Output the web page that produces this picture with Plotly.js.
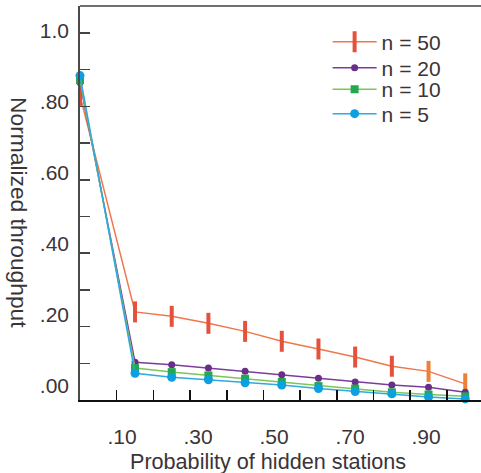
<!DOCTYPE html>
<html>
<head>
<meta charset="utf-8">
<script src="https://cdn.plot.ly/plotly-3.0.1.min.js"></script>
<style>html,body{margin:0;padding:0;background:#fff;}#chart{width:481px;height:473px;}</style>
</head>
<body>
<div id="chart"></div>
<script>
// Probability of hidden stations (x) as read against the chart's tick marks
const probHidden = [0, 0.15, 0.25, 0.35, 0.45, 0.55, 0.65, 0.75, 0.85, 0.95, 1.05];
const thrN50 = [0.83, 0.240, 0.228, 0.209, 0.187, 0.160, 0.139, 0.117, 0.092, 0.078, 0.044];
const thrN20 = [0.865, 0.103, 0.096, 0.087, 0.078, 0.069, 0.059, 0.049, 0.041, 0.035, 0.021];
const thrN10 = [0.872, 0.087, 0.076, 0.067, 0.058, 0.049, 0.038, 0.031, 0.021, 0.015, 0.010];
const thrN5  = [0.884, 0.073, 0.062, 0.055, 0.047, 0.041, 0.031, 0.023, 0.017, 0.008, 0.003];
const seriesNames = ['n = 50', 'n = 20', 'n = 10', 'n = 5'];
const xTickVals = [0.1, 0.3, 0.5, 0.7, 0.9];
const xTickText = ['.10', '.30', '.50', '.70', '.90'];
const yTickVals = [0, 0.2, 0.4, 0.6, 0.8, 1.0];
const yTickText = ['.00', '.20', '.40', '.60', '.80', '1.0'];
const xTitle = 'Probability of hidden stations';
const yTitle = 'Normalized throughput';

const FONT = 'Liberation Sans, Arial, sans-serif';
const TXT = '#3b3437';
const n50Colors = probHidden.map((v, i) => i >= probHidden.length - 2 ? '#ee7f36' : '#e5523b');

const traces = [
  {x: probHidden, y: thrN50, name: seriesNames[0], legend: 'legend', mode: 'lines+markers', cliponaxis: false,
   line: {color: '#f0764c', width: 1.5},
   marker: {symbol: 'line-ns', size: 15, line: {color: n50Colors, width: 4}}},
  {x: probHidden, y: thrN20, name: seriesNames[1], legend: 'legend2', mode: 'lines+markers', cliponaxis: false,
   line: {color: '#7b3d9b', width: 1.5},
   marker: {symbol: 'circle', size: 7, color: '#6a2d8a'}},
  {x: probHidden, y: thrN10, name: seriesNames[2], legend: 'legend3', mode: 'lines+markers', cliponaxis: false,
   line: {color: '#7cc55a', width: 1.5},
   marker: {symbol: 'square', size: 8, color: '#22a94c'}},
  {x: probHidden, y: thrN5, name: seriesNames[3], legend: 'legend4', mode: 'lines+markers', cliponaxis: false,
   line: {color: '#2fa9e1', width: 1.5},
   marker: {symbol: 'circle', size: 9, color: '#0d9fe0'}},
  {x: [], y: [], xaxis: 'x2', yaxis: 'y2', showlegend: false, hoverinfo: 'skip', mode: 'markers'}
];

function legendAt(yPaper) {
  return {x: 0.6175, y: yPaper, xanchor: 'left', yanchor: 'top', bgcolor: 'rgba(0,0,0,0)',
          font: {family: FONT, size: 21, color: TXT}, itemwidth: 44};
}

const layout = {
  width: 481, height: 473,
  margin: {l: 80, r: 0, t: 6, b: 73, pad: 0},
  paper_bgcolor: '#ffffff', plot_bgcolor: '#ffffff',
  font: {family: FONT, size: 21, color: TXT},
  showlegend: true,
  legend: legendAt(0.9607),
  legend2: legendAt(0.8947),
  legend3: legendAt(0.8401),
  legend4: legendAt(0.7779),
  xaxis: {range: [0, 1.093], showgrid: false, zeroline: false, showticklabels: false,
          tickvals: [0.1,0.2,0.3,0.4,0.5,0.6,0.7,0.8,0.9,1.0], ticks: 'inside', ticklen: 10, tickwidth: 1.5, tickcolor: '#111',
          showline: true, linecolor: '#111', linewidth: 2},
  yaxis: {range: [0, 1.0736], showgrid: false, zeroline: false, showticklabels: false,
          dtick: 0.1, tick0: 0, ticks: 'inside', ticklen: 10, tickwidth: 1.5, tickcolor: '#444',
          showline: true, linecolor: '#4a4a4a', linewidth: 2},
  xaxis2: {overlaying: 'x', anchor: 'y', side: 'bottom', range: [-0.0105, 1.0447],
           tickvals: xTickVals, ticktext: xTickText, ticks: '', showline: false, showgrid: false, zeroline: false,
           ticklabelstandoff: 22, tickfont: {family: FONT, size: 21, color: TXT}},
  yaxis2: {overlaying: 'y', anchor: 'x', side: 'left', range: [-0.0394, 1.0704],
           tickvals: yTickVals, ticktext: yTickText, ticks: '', showline: false, showgrid: false, zeroline: false,
           ticklabelstandoff: 10, tickfont: {family: FONT, size: 21, color: TXT}},
  shapes: [{type: 'line', xref: 'paper', yref: 'paper', x0: 0, x1: 1, y0: 1, y1: 1,
            line: {color: '#707070', width: 2}}],
  annotations: [
    {text: xTitle, xref: 'paper', yref: 'paper', x: (267.5 - 80) / 401, y: (400 - 462) / 394,
     xanchor: 'center', yanchor: 'middle', showarrow: false, font: {family: FONT, size: 21.6, color: TXT}},
    {text: yTitle, xref: 'paper', yref: 'paper', x: (19 - 80) / 401, y: (400 - 212) / 394,
     xanchor: 'center', yanchor: 'middle', textangle: 90, showarrow: false, font: {family: FONT, size: 22.8, color: TXT}}
  ]
};

Plotly.newPlot('chart', traces, layout, {displayModeBar: false, staticPlot: true});
</script>
</body>
</html>
